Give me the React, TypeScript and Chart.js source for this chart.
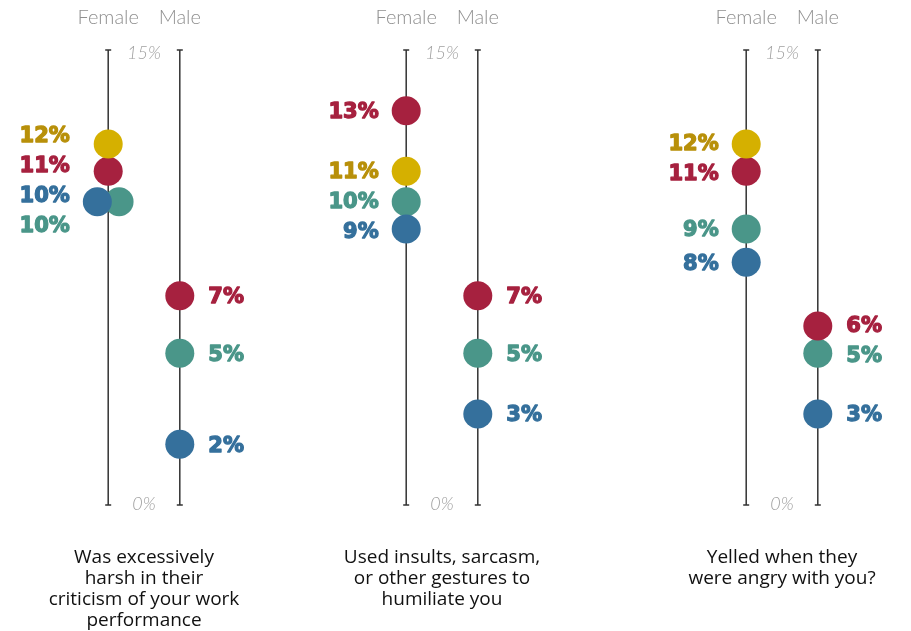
import React, { useEffect, useRef } from 'react';
import { Chart, registerables } from 'chart.js';

Chart.register(...registerables);

// ---------- data ----------
const genders = ['Female', 'Male'];
const questions: string[][] = [
  ['Was excessively', 'harsh in their', 'criticism of your work', 'performance'],
  ['Used insults, sarcasm,', 'or other gestures to', 'humiliate you'],
  ['Yelled when they', 'were angry with you?'],
];
const seriesNames = ['Gold', 'Crimson', 'Blue', 'Teal'];
const seriesColors = ['#D5B000', '#A6213F', '#35709C', '#4A9689'];
const labelColors = ['#B8900A', '#A6213F', '#35709C', '#4A9689'];
// each entry: [Female, Male] for question 1..3
const goldValues: (number | null)[][] = [[11.9, null], [11.0, null], [11.9, null]];
const crimsonValues: (number | null)[][] = [[11.0, 6.9], [13.0, 6.9], [11.0, 5.9]];
const blueValues: (number | null)[][] = [[10.0, 2.0], [9.1, 3.0], [8.0, 3.0]];
const tealValues: (number | null)[][] = [[10.0, 5.0], [10.0, 5.0], [9.1, 5.0]];
const axisMin = 0;
const axisMax = 15;
const axisTickLabels = ['0%', '15%'];

// ---------- layout ----------
const PANEL_W = 256;
const PANEL_H = 631;
const panelCenters = [143.5, 442.2, 781.9];
const RADIUS = 14.5;
const LABEL_GAP = 30;

const seriesValues = [goldValues, crimsonValues, blueValues, tealValues];

const dodgePlugin = {
  id: 'dodge',
  afterDatasetsUpdate(chart: any) {
    const n = chart.data.labels.length;
    for (let i = 0; i < n; i++) {
      const pts: any[] = [];
      chart.data.datasets.forEach((ds: any, di: number) => {
        if (ds.data[i] == null) return;
        const el = chart.getDatasetMeta(di).data[i];
        if (el) pts.push(el);
      });
      const used = new Set<number>();
      for (let a = 0; a < pts.length; a++) {
        if (used.has(a)) continue;
        const group = [a];
        for (let b = a + 1; b < pts.length; b++) {
          if (!used.has(b) && Math.abs(pts[b].y - pts[a].y) < 1) group.push(b);
        }
        if (group.length > 1) {
          const step = RADIUS * 1.5;
          group.forEach((g, k) => {
            pts[g].x += (k - (group.length - 1) / 2) * step;
            used.add(g);
          });
        }
      }
    }
  },
};

const guidePlugin = {
  id: 'guides',
  beforeDatasetsDraw(chart: any) {
    const { ctx, chartArea, scales } = chart;
    const n = chart.data.labels.length;
    ctx.save();
    ctx.strokeStyle = '#333';
    ctx.lineWidth = 1.5;
    for (let i = 0; i < n; i++) {
      const x = scales.x.getPixelForValue(i);
      ctx.beginPath();
      ctx.moveTo(x, chartArea.top);
      ctx.lineTo(x, chartArea.bottom);
      ctx.moveTo(x - 3, chartArea.top);
      ctx.lineTo(x + 3, chartArea.top);
      ctx.moveTo(x - 3, chartArea.bottom);
      ctx.lineTo(x + 3, chartArea.bottom);
      ctx.stroke();
    }
    ctx.restore();
  },
  afterDatasetsDraw(chart: any) {
    const { ctx, chartArea, scales } = chart;
    const n = chart.data.labels.length;
    ctx.save();
    // value labels
    for (let i = 0; i < n; i++) {
      const items: any[] = [];
      chart.data.datasets.forEach((ds: any, di: number) => {
        const v = ds.data[i];
        if (v == null) return;
        const el = chart.getDatasetMeta(di).data[i];
        items.push({ y: el.y, x: el.x, text: Math.round(v) + '%', color: ds.labelColor });
      });
      if (!items.length) continue;
      items.sort((a, b) => a.y - b.y || a.x - b.x);
      let clusters = items.map((it) => ({ members: [it], center: it.y }));
      let changed = true;
      while (changed) {
        changed = false;
        for (let k = 0; k < clusters.length - 1; k++) {
          const A = clusters[k];
          const B = clusters[k + 1];
          const aBottom = A.center + ((A.members.length - 1) * LABEL_GAP) / 2;
          const bTop = B.center - ((B.members.length - 1) * LABEL_GAP) / 2;
          if (bTop - aBottom < LABEL_GAP - 1) {
            const members = A.members.concat(B.members);
            const center = members.reduce((s, m) => s + m.y, 0) / members.length;
            clusters.splice(k, 2, { members, center });
            changed = true;
            break;
          }
        }
      }
      const leftSide = i === 0;
      const edge = leftSide
        ? Math.min(...items.map((it) => it.x)) - RADIUS - 13
        : Math.max(...items.map((it) => it.x)) + RADIUS + 14;
      ctx.font = 'bold 21px "DejaVu Sans"';
      ctx.textAlign = leftSide ? 'right' : 'left';
      ctx.textBaseline = 'middle';
      ctx.lineWidth = 1.3;
      ctx.lineJoin = 'round';
      clusters.forEach((c) => {
        c.members.forEach((m: any, j: number) => {
          const y = c.center + (j - (c.members.length - 1) / 2) * LABEL_GAP + 2;
          ctx.fillStyle = m.color;
          ctx.strokeStyle = m.color;
          ctx.fillText(m.text, edge, y);
          ctx.strokeText(m.text, edge, y);
        });
      });
    }
    // gender headers
    ctx.font = '300 20px Lato';
    ctx.fillStyle = '#8f8f8f';
    ctx.textAlign = 'center';
    ctx.textBaseline = 'alphabetic';
    chart.data.labels.forEach((lab: string, i: number) => {
      ctx.fillText(lab, scales.x.getPixelForValue(i), 24);
    });
    // axis extremes
    const cx = (chartArea.left + chartArea.right) / 2;
    ctx.font = 'italic 300 18px Lato';
    ctx.fillStyle = '#a0a0a0';
    ctx.fillText(axisTickLabels[1], cx, scales.y.getPixelForValue(axisMax) + 9);
    ctx.fillText(axisTickLabels[0], cx, scales.y.getPixelForValue(axisMin) + 5);
    // question
    const q: string[] = chart.options.plugins.guides.question;
    ctx.font = '19px "Open Sans"';
    ctx.fillStyle = '#111';
    ctx.textBaseline = 'alphabetic';
    q.forEach((line, k) => ctx.fillText(line, cx, 563 + k * 21));
    ctx.restore();
  },
};

function Panel({ index }: { index: number }) {
  const ref = useRef<HTMLCanvasElement>(null);
  useEffect(() => {
    if (!ref.current) return;
    const padX = PANEL_W / 2 - 71.6;
    const chart = new Chart(ref.current, {
      type: 'line',
      data: {
        labels: genders,
        datasets: seriesNames.map((name, s) => ({
          label: name,
          data: seriesValues[s][index],
          showLine: false,
          pointRadius: RADIUS,
          pointHoverRadius: RADIUS,
          pointBorderWidth: 0,
          pointBackgroundColor: seriesColors[s],
          backgroundColor: seriesColors[s],
          borderColor: seriesColors[s],
          labelColor: labelColors[s],
          clip: false,
        })) as any,
      },
      options: {
        responsive: false,
        animation: false,
        events: [],
        layout: { padding: { top: 50, bottom: PANEL_H - 505, left: padX, right: padX } },
        scales: {
          x: { type: 'category', offset: true, display: false },
          y: { min: axisMin, max: axisMax, display: false },
        },
        plugins: {
          legend: { display: false },
          tooltip: { enabled: false },
          guides: { question: questions[index] },
        } as any,
      },
      plugins: [dodgePlugin, guidePlugin],
    });
    return () => chart.destroy();
  }, [index]);
  return (
    <canvas
      ref={ref}
      width={PANEL_W}
      height={PANEL_H}
      style={{ position: 'absolute', top: 0, left: panelCenters[index] - PANEL_W / 2 }}
    />
  );
}

export default function App() {
  return (
    <div
      style={{
        position: 'absolute',
        left: 0,
        top: 0,
        width: 911,
        height: 631,
        overflow: 'hidden',
        background: '#fff',
      }}
    >
      {questions.map((_, i) => (
        <Panel key={i} index={i} />
      ))}
    </div>
  );
}
